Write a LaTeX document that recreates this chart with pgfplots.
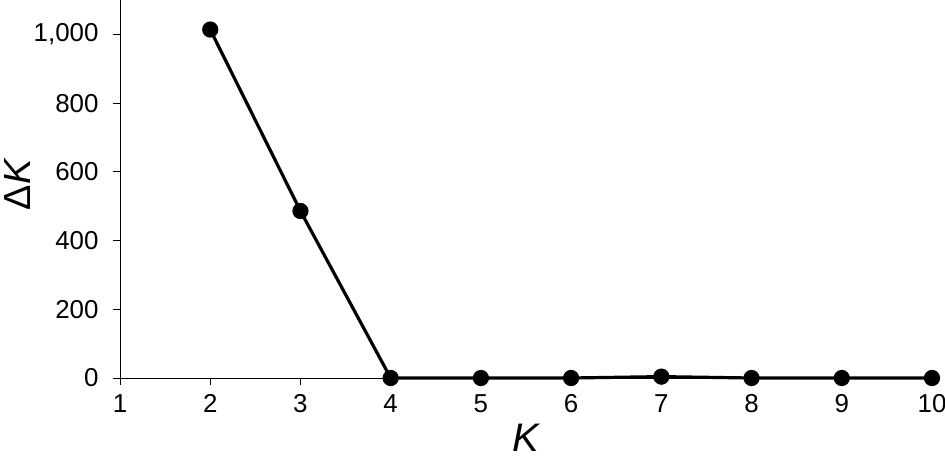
\documentclass[border=0pt]{standalone}
\usepackage{pgfplots}
\pgfplotsset{compat=1.18}
\usepackage{fontspec}
\setmainfont{Liberation Sans}
\begin{document}
\begin{tikzpicture}
\begin{axis}[
  scale only axis,
  width=812bp, height=378bp,
  xmin=1, xmax=10, ymin=0, ymax=1100,
  axis x line*=bottom, axis y line*=left,
  axis line style={line width=1bp, black},
  xtick={1,...,10},
  ytick={0,200,400,600,800,1000},
  tick style={line width=1bp, black},
  tick align=outside,
  major tick length=7bp,
  /pgf/number format/assume math mode=true,
  /pgf/number format/1000 sep={,},
  tick label style={font=\fontsize{26}{28}\selectfont},
  xticklabel style={yshift=-6bp},
  yticklabel style={xshift=-11bp},
  xlabel={\itshape K},
  ylabel={Δ\itshape K},
  xlabel style={font=\fontsize{40}{44}\selectfont, at={(axis description cs:0.5,0)}, anchor=base, yshift=-73bp},
  ylabel style={font=\fontsize{38}{40}\selectfont, at={(axis description cs:-0.126,0.511)}, anchor=center},
  clip=false,
]
\addplot[black, line width=3.2bp, mark=*, mark size=6.5bp] coordinates {
(2,1014) (3,486) (4,0) (5,0) (6,0) (7,4) (8,0) (9,0) (10,0)
};
\coordinate (bl) at (rel axis cs:0,0);
\coordinate (tr) at (rel axis cs:1,1);
\end{axis}
\pgfresetboundingbox
\path ([xshift=-120bp,yshift=-82bp]bl) rectangle ([xshift=13bp]tr);
\end{tikzpicture}
\end{document}
